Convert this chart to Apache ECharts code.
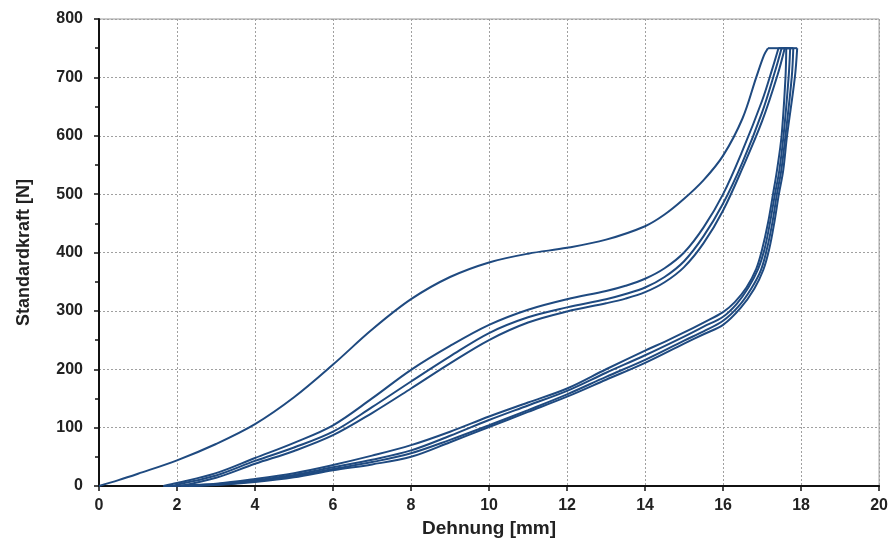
<!DOCTYPE html>
<html>
<head>
<meta charset="utf-8">
<script src="https://cdn.jsdelivr.net/npm/echarts@6/dist/echarts.min.js"></script>
<style>
html,body{margin:0;padding:0;background:#fff;}
#chart{width:891px;height:547px;}
</style>
</head>
<body>
<div id="chart"></div>
<script>
// Axis settings
const xTitle = 'Dehnung [mm]';
const yTitle = 'Standardkraft [N]';

// Cycle 1 loading (x mm, force N)
const load1 = [[0,0],[0.5,10],[1,21],[2,44],[3,72],[4,106],[5,152],[6,208],[7,268],[8,320],[9,358],[10,383],[11,398],[12,408],[13,422],[14,445],[14.5,465],[15,492],[15.5,524],[16,566],[16.5,630],[16.85,700],[17.05,738],[17.15,750]];
const hold1 = [[17.15,750],[17.62,750]];
const unload1 = [[17.62,750],[17.6,700],[17.5,600],[17.38,540],[17.28,500],[17.15,450],[17.0,405],[16.85,372],[16.6,340],[16.3,315],[16,298],[15.5,280],[15,263],[14.5,247],[14,232],[13,200],[12,167],[11,143],[10,119],[9,93],[8,70],[7,52],[6,36],[5,22],[4,12],[3,4],[2,0.5],[1.65,0]];

// Cycle 2
const load2 = [[1.65,0],[2,5],[3,22],[4,48],[5,74],[6,104],[7,150],[8,199],[9,240],[10,276],[11,302],[12,320],[13,334],[13.5,343],[14,355],[14.5,373],[15,400],[15.5,443],[16,500],[16.5,575],[17,660],[17.25,712],[17.42,750]];
const hold2 = [[17.42,750],[17.72,750]];
const unload2 = [[17.72,750],[17.68,700],[17.55,600],[17.44,540],[17.33,500],[17.2,450],[17.06,405],[16.9,372],[16.65,340],[16.35,312],[16,290],[15.5,273],[15,256],[14,224],[13,194],[12,163],[11,138],[10,113],[9,86],[8,61],[7,45],[6,32],[5,19],[4,10],[3,3],[2,0.3],[1.9,0]];

// Cycle 3
const load3 = [[1.9,0],[2,2],[3,18],[4,43],[5,66],[6,93],[7,135],[8,179],[9,222],[10,262],[11,289],[12,306],[13,320],[13.5,329],[14,340],[14.5,358],[15,385],[15.5,428],[16,484],[16.5,555],[17,640],[17.33,710],[17.5,750]];
const hold3 = [[17.5,750],[17.8,750]];
const unload3 = [[17.8,750],[17.76,700],[17.6,600],[17.49,540],[17.38,500],[17.26,450],[17.12,405],[16.97,370],[16.72,338],[16.4,308],[16,283],[15.5,265],[15,249],[14,216],[13,187],[12,157],[11,130],[10,104],[9,79],[8,56],[7,41],[6,29],[5,17],[4,8],[3,2],[2.1,0]];

// Cycle 4
const load4 = [[2.1,0],[3,14],[4,38],[5,60],[6,87],[7,125],[8,167],[9,210],[10,250],[11,280],[12,299],[13,313],[13.5,321],[14,332],[14.5,349],[15,375],[15.5,416],[16,472],[16.5,545],[17,625],[17.4,705],[17.58,750]];
const hold4 = [[17.58,750],[17.9,750]];
const unload4 = [[17.9,750],[17.84,700],[17.64,600],[17.54,540],[17.43,500],[17.31,450],[17.18,405],[17.03,370],[16.8,338],[16.45,305],[16,276],[15.5,260],[15,244],[14,211],[13,182],[12,153],[11,127],[10,101],[9,75],[8,50],[7,37],[6,27],[5,15],[4,7],[3,1.5],[2.3,0]];

const curves = [load1, hold1, unload1, load2, hold2, unload2, load3, hold3, unload3, load4, hold4, unload4];

const lineColor = '#1f4a80';
const font = 'Liberation Sans, Arial, sans-serif';

const chart = echarts.init(document.getElementById('chart'), null, {renderer: 'canvas'});
chart.setOption({
  animation: false,
  backgroundColor: '#fff',
  grid: {left: 99, right: 11, top: 19, bottom: 61, show: true, borderColor: '#9a9a9a', borderWidth: 1},
  xAxis: {
    type: 'value', min: 0, max: 20, interval: 2,
    name: xTitle, nameLocation: 'middle', nameGap: 31,
    nameTextStyle: {fontFamily: font, fontWeight: 'bold', fontSize: 19, color: '#222'},
    axisLine: {show: true, onZero: false, lineStyle: {color: '#111', width: 2}},
    axisTick: {show: true, inside: false, length: 5, lineStyle: {color: '#111', width: 1.5}},
    axisLabel: {fontFamily: font, fontWeight: 'bold', fontSize: 16, color: '#222', margin: 12},
    splitLine: {show: true, lineStyle: {color: '#a0a0a0', type: [2, 2], width: 1}}
  },
  yAxis: {
    type: 'value', min: 0, max: 800, interval: 100,
    name: yTitle, nameLocation: 'middle', nameGap: 66, nameRotate: 90,
    nameTextStyle: {fontFamily: font, fontWeight: 'bold', fontSize: 18, color: '#222'},
    axisLine: {show: true, onZero: false, lineStyle: {color: '#111', width: 2}},
    axisTick: {show: true, inside: false, length: 5, lineStyle: {color: '#111', width: 1.5}},
    minorTick: {show: true, splitNumber: 2, length: 4, lineStyle: {color: '#111', width: 1.5}},
    axisLabel: {fontFamily: font, fontWeight: 'bold', fontSize: 16, color: '#222', margin: 16},
    splitLine: {show: true, lineStyle: {color: '#a0a0a0', type: [2, 2], width: 1}}
  },
  series: curves.map(function (c) {
    return {
      type: 'line', data: c, showSymbol: false, symbol: 'none',
      smooth: c.length > 2 ? 0.35 : false,
      lineStyle: {color: lineColor, width: 2},
      z: 3
    };
  })
});
</script>
</body>
</html>
